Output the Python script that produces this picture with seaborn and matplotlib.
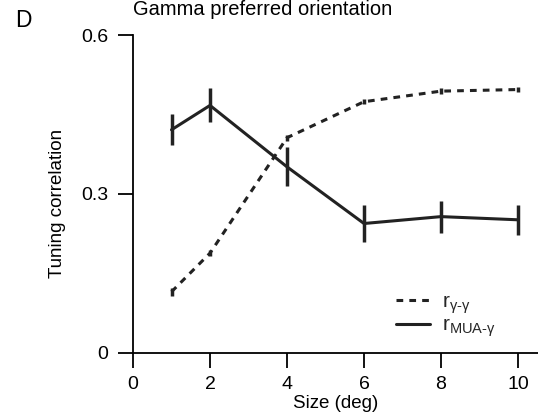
import matplotlib
matplotlib.use("Agg")
import matplotlib.pyplot as plt
import seaborn as sns
import pandas as pd

sizes = [1, 2, 4, 6, 8, 10]
r_gamma_gamma = [0.115, 0.188, 0.406, 0.474, 0.494, 0.497]
err_gamma_gamma = [0.007, 0.006, 0.006, 0.005, 0.005, 0.005]
r_mua_gamma = [0.421, 0.467, 0.351, 0.244, 0.257, 0.251]
err_mua_gamma = [0.029, 0.032, 0.037, 0.034, 0.030, 0.028]
x_ticks = [0, 2, 4, 6, 8, 10]
y_ticks = [0, 0.3, 0.6]
y_ticklabels = ["0", "0.3", "0.6"]

sns.set_theme(style="ticks")
plt.rcParams['font.family'] = ['Liberation Sans', 'DejaVu Sans']
plt.rcParams['mathtext.fontset'] = 'custom'
plt.rcParams['mathtext.rm'] = 'Liberation Sans'
plt.rcParams['mathtext.it'] = 'Liberation Sans:italic'

df = pd.DataFrame({
    "size": sizes * 2,
    "r": r_gamma_gamma + r_mua_gamma,
    "err": err_gamma_gamma + err_mua_gamma,
    "series": ["gg"] * len(sizes) + ["mua"] * len(sizes),
})

fig = plt.figure(figsize=(5.38, 4.18), dpi=100)
ax = fig.add_axes([133 / 538, 1 - 352.7 / 418, 405 / 538, (352.7 - 35) / 418])

col = "#222222"
lab_gg = r'r$_{\mathregular{γ\text{-}γ}}$'
lab_mua = r'r$_{\mathregular{MUA\text{-}γ}}$'

sub = df[df.series == "gg"]
sns.lineplot(data=sub, x="size", y="r", ax=ax, color=col, lw=2.2,
             linestyle=(0, (2.2, 2.0)), label=lab_gg)
ax.errorbar(sub["size"], sub["r"], yerr=sub["err"], fmt="none", ecolor=col,
            elinewidth=2.5, capsize=0)
sub = df[df.series == "mua"]
sns.lineplot(data=sub, x="size", y="r", ax=ax, color=col, lw=2.2,
             linestyle="-", label=lab_mua)
ax.errorbar(sub["size"], sub["r"], yerr=sub["err"], fmt="none", ecolor=col,
            elinewidth=2.5, capsize=0)

ax.set_xlim(0, 405 / 38.5)
ax.set_ylim(0, 0.6)
ax.set_xticks(x_ticks)
ax.set_xticklabels([str(t) for t in x_ticks])
ax.set_yticks(y_ticks)
ax.set_yticklabels(y_ticklabels)
for s in ["top", "right"]:
    ax.spines[s].set_visible(False)
for s in ["left", "bottom"]:
    ax.spines[s].set_linewidth(1.3)
    ax.spines[s].set_color("black")
ax.tick_params(axis="both", length=11, width=1.3, color="black",
               labelsize=14, labelcolor="black")
ax.tick_params(axis="x", pad=6)
ax.tick_params(axis="y", pad=7)
ax.set_xlabel("Size (deg)", fontsize=13.5, color="black")
ax.xaxis.set_label_coords(0.5, -(403 - 352.7) / 317.7)
ax.xaxis.label.set_va("center")
ax.set_ylabel("Tuning correlation", fontsize=13.5, color="black")
ax.yaxis.set_label_coords(-(133 - 58) / 405, (352.7 - 203) / 317.7)
ax.yaxis.label.set_va("center")

leg = ax.legend(frameon=False, loc="upper left", bbox_to_anchor=(0.63, 0.215),
                fontsize=15, handlelength=1.6, handletextpad=0.6,
                labelspacing=0.0, borderaxespad=0)
for h in leg.get_lines():
    h.set_linewidth(2.2)

fig.text(0.489, 0.999, "Gamma preferred orientation", ha="center", va="top",
         fontsize=14.5, color="black")
fig.text(0.028, 0.952, "D", fontsize=16.5, color="black", ha="left", va="center")

fig.savefig("out.png", dpi=100)
